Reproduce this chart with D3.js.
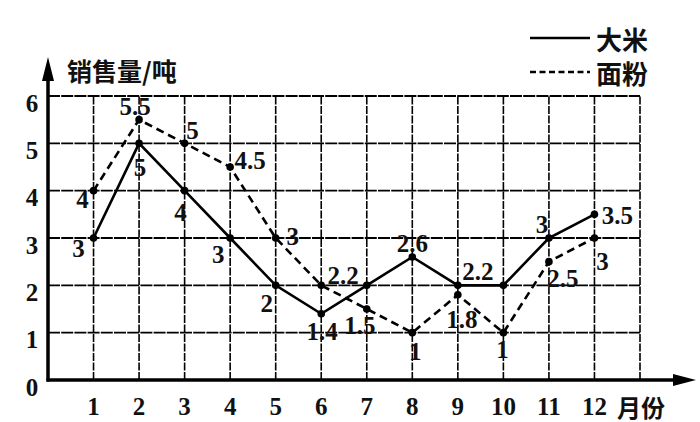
<!DOCTYPE html>
<html><head><meta charset="utf-8">
<script src="https://cdn.jsdelivr.net/npm/d3@7"></script>
<style>
html,body{margin:0;padding:0;background:#fff;}
svg{display:block;}
</style></head>
<body>
<svg id="chart" width="700" height="422"></svg>
<script>
// ---- data ----
const months = [1,2,3,4,5,6,7,8,9,10,11,12];
const riceValues  = [3, 5, 4, 3, 2, 1.4, 2, 2.6, 2, 2, 3, 3.5];
const flourValues = [4, 5.5, 5, 4.5, 3, 2, 1.5, 1, 1.8, 1, 2.5, 3];
const riceLabels  = ["3","5","4","3","2","1.4",null,"2.6","2.2",null,"3","3.5"];
const flourLabels = ["4","5.5","5","4.5","3","2.2","1.5","1","1.8","1","2.5","3"];
const yTicks = [0,1,2,3,4,5,6];
const xTicks = [1,2,3,4,5,6,7,8,9,10,11,12];
const seriesNames = ["大米","面粉"];
const yTitle = "销售量/吨";
const xTitle = "月份";

// ---- layout (label offsets in px relative to point) ----
const riceLabelOffset  = [[-15,10],[1,24],[-4,22],[-12,16],[-9,18],[1,18],null,[0,-13],[20,-14],null,[-7,-14],[23,1]];
const flourLabelOffset = [[-11,9],[-4,-13],[8,-13],[20,-7],[17,-2],[22,-10],[-7,16],[3,19],[4,25],[-1,17],[14,17],[8,23]];

const SERIF = "Liberation Serif";
const CJK = "Noto Sans CJK SC";

const svg = d3.select("#chart");
const x = d3.scaleLinear().domain([0,13]).range([48,640]);
const y = d3.scaleLinear().domain([0,6]).range([380,96]);

function numText(sel){
  return sel.attr("font-family",SERIF).attr("font-size",25).attr("font-weight","bold")
    .attr("fill","#111").attr("text-anchor","middle").attr("dominant-baseline","central");
}

// grid
const g = svg.append("g");
g.selectAll("line").data(yTicks.filter(d=>d>0)).join("line")
  .attr("x1", x(0)).attr("x2", x(13))
  .attr("y1", d=>y(d)).attr("y2", d=>y(d))
  .attr("stroke","#000").attr("stroke-width",1.8).attr("stroke-dasharray","12,1.2");
const g2 = svg.append("g");
g2.selectAll("line").data(xTicks.concat([13])).join("line")
  .attr("y1", y(0)).attr("y2", y(6))
  .attr("x1", d=>x(d)).attr("x2", d=>x(d))
  .attr("stroke","#000").attr("stroke-width",1.6).attr("stroke-dasharray","8,1.5");

// axes
svg.append("line").attr("x1",x(0)).attr("x2",x(0)).attr("y1",y(0)+1.5).attr("y2",76)
  .attr("stroke","#000").attr("stroke-width",3.5);
svg.append("path").attr("d",`M${x(0)},57 L${x(0)-6},81 L${x(0)+6},81 Z`).attr("fill","#000");
svg.append("line").attr("x1",x(0)-1.5).attr("x2",678).attr("y1",y(0)).attr("y2",y(0))
  .attr("stroke","#000").attr("stroke-width",3.5);
svg.append("path").attr("d",`M696,${y(0)} L673,${y(0)-6} L673,${y(0)+6} Z`).attr("fill","#000");

// tick labels
svg.append("g").selectAll("text").data(yTicks).join("text").call(numText)
  .attr("x",32).attr("y",d=>y(d)+7).text(d=>d);
svg.append("g").selectAll("text").data(xTicks).join("text").call(numText)
  .attr("x",d=>x(d)).attr("y",406).text(d=>d);
svg.append("text").attr("font-family",CJK).attr("font-weight","bold").attr("fill","#111")
  .attr("x",617).attr("y",406).attr("dominant-baseline","central").attr("font-size",24).text(xTitle);
svg.append("text").attr("font-family",CJK).attr("font-weight","bold").attr("fill","#111")
  .attr("x",67).attr("y",70).attr("dominant-baseline","central").attr("font-size",25).text(yTitle);

// lines
const line = d3.line().x((d,i)=>x(months[i])).y(d=>y(d));
svg.append("path").attr("d",line(riceValues)).attr("fill","none")
  .attr("stroke","#000").attr("stroke-width",2.6);
svg.append("path").attr("d",line(flourValues)).attr("fill","none")
  .attr("stroke","#000").attr("stroke-width",2.6).attr("stroke-dasharray","8,5");

// points
[riceValues, flourValues].forEach(vals=>{
  svg.append("g").selectAll("circle").data(vals).join("circle")
    .attr("cx",(d,i)=>x(months[i])).attr("cy",d=>y(d)).attr("r",3.8).attr("fill","#000");
});

// value labels
function addLabels(vals, labels, offs){
  svg.append("g").selectAll("text").data(vals.map((v,i)=>({v,i})).filter(d=>labels[d.i]!==null)).join("text")
    .call(numText)
    .attr("x",d=>x(months[d.i])+offs[d.i][0])
    .attr("y",d=>y(d.v)+offs[d.i][1])
    .text(d=>labels[d.i]);
}
addLabels(riceValues, riceLabels, riceLabelOffset);
addLabels(flourValues, flourLabels, flourLabelOffset);

// legend
svg.append("line").attr("x1",530).attr("x2",590).attr("y1",38).attr("y2",38)
  .attr("stroke","#000").attr("stroke-width",2.6);
svg.append("line").attr("x1",530).attr("x2",590).attr("y1",72).attr("y2",72)
  .attr("stroke","#000").attr("stroke-width",2.6).attr("stroke-dasharray","6,3.5");
svg.append("text").attr("font-family",CJK).attr("font-weight","bold").attr("fill","#111")
  .attr("x",596).attr("y",38).attr("dominant-baseline","central").attr("font-size",26).text(seriesNames[0]);
svg.append("text").attr("font-family",CJK).attr("font-weight","bold").attr("fill","#111")
  .attr("x",596).attr("y",72).attr("dominant-baseline","central").attr("font-size",26).text(seriesNames[1]);
</script>
</body></html>
